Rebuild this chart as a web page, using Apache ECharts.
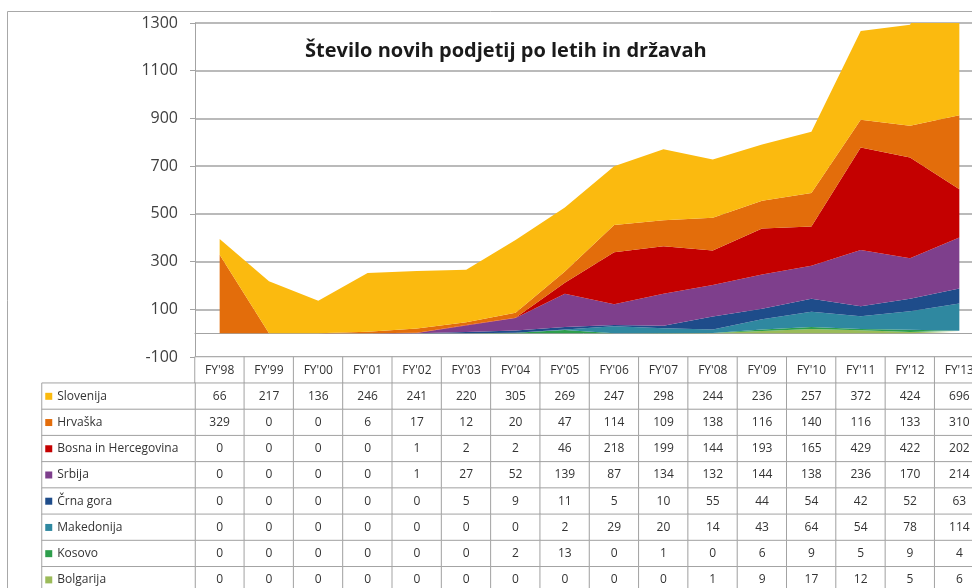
<!DOCTYPE html>
<html><head><meta charset="utf-8">
<script src="https://cdn.jsdelivr.net/npm/echarts@6/dist/echarts.min.js"></script>
<style>html,body{margin:0;padding:0;background:#fff}#c{width:972px;height:588px}</style>
</head><body><div id="c"></div>
<script>
const years = ["FY'98","FY'99","FY'00","FY'01","FY'02","FY'03","FY'04","FY'05","FY'06","FY'07","FY'08","FY'09","FY'10","FY'11","FY'12","FY'13"];
const countries = ["Slovenija","Hrvaška","Bosna in Hercegovina","Srbija","Črna gora","Makedonija","Kosovo","Bolgarija"];
const slovenija  = [66,217,136,246,241,220,305,269,247,298,244,236,257,372,424,696];
const hrvaska    = [329,0,0,6,17,12,20,47,114,109,138,116,140,116,133,310];
const bosna      = [0,0,0,0,1,2,2,46,218,199,144,193,165,429,422,202];
const srbija     = [0,0,0,0,1,27,52,139,87,134,132,144,138,236,170,214];
const crnaGora   = [0,0,0,0,0,5,9,11,5,10,55,44,54,42,52,63];
const makedonija = [0,0,0,0,0,0,0,2,29,20,14,43,64,54,78,114];
const kosovo     = [0,0,0,0,0,0,2,13,0,1,0,6,9,5,9,4];
const bolgarija  = [0,0,0,0,0,0,0,0,0,0,1,9,17,12,5,6];
const yTicks = [-100,100,300,500,700,900,1100,1300];
const title = "Število novih podjetij po letih in državah";

const rows = [slovenija,hrvaska,bosna,srbija,crnaGora,makedonija,kosovo,bolgarija];
const colors = ["#FBBA0F","#E36D0B","#C40000","#7E3F8C","#1E4C8A","#2F88A0","#2E9E4C","#9BBB59"];
const FONT = "Open Sans";
const GRID = "#A3A3A3";

// stacked series, bottom first
const areaSeries = [];
for (let i = rows.length - 1; i >= 0; i--) {
  areaSeries.push({
    name: countries[i], type: 'line', stack: 'total', xAxisIndex: 0, yAxisIndex: 0,
    data: rows[i], symbol: 'none', smooth: false,
    lineStyle: {width: 0}, areaStyle: {color: colors[i], opacity: 1},
    itemStyle: {color: colors[i]}, emphasis: {disabled: true}, silent: true
  });
}

// table cells (header row + value rows)
const tableData = [];
years.forEach((y, x) => tableData.push([x, 0, 0]));
rows.forEach((r, ri) => r.forEach((v, x) => tableData.push([x, ri + 1, v])));
const headerCells = countries.map((c, i) => [0, i, 0]);

const rich = {t: {fontFamily: FONT, fontSize: 12, color: '#333', padding: [0,0,0,5]}};
colors.forEach((c, i) => { rich['s' + i] = {width: 7, height: 7, backgroundColor: c}; });

const chart = echarts.init(document.getElementById('c'), null, {renderer: 'canvas'});
chart.setOption({
  animation: false,
  backgroundColor: '#fff',
  textStyle: {fontFamily: FONT},
  title: {text: title, left: 300, top: 36, textStyle: {fontFamily: FONT, fontSize: 20, fontWeight: 'bold', color: '#1a1a1a'}},
  graphic: [{type: 'rect', shape: {x: 7.5, y: 11.5, width: 1000, height: 600}, style: {fill: 'none', stroke: '#A8A8A8', lineWidth: 1}, silent: true, z: -10}],
  grid: [
    {left: 195, top: 23, width: 789, height: 334, outerBoundsMode: 'none', containLabel: false},
    {left: 195, top: 357, width: 789, height: 236, outerBoundsMode: 'none', containLabel: false},
    {left: 42, top: 383.2, width: 153, height: 209.8, outerBoundsMode: 'none', containLabel: false}
  ],
  xAxis: [
    {type: 'category', gridIndex: 0, data: years, boundaryGap: true,
     axisLine: {show: true, onZero: true, lineStyle: {color: GRID, width: 1}},
     axisTick: {show: false}, axisLabel: {show: false}, splitLine: {show: false}},
    {type: 'category', gridIndex: 1, data: years, show: false},
    {type: 'category', gridIndex: 2, data: ['x'], show: false}
  ],
  yAxis: [
    {type: 'value', gridIndex: 0, min: yTicks[0], max: yTicks[yTicks.length-1], interval: yTicks[1]-yTicks[0],
     axisLine: {show: true, lineStyle: {color: GRID, width: 1}},
     axisTick: {show: true, length: 5, lineStyle: {color: GRID}},
     axisLabel: {fontFamily: FONT, fontSize: 16, color: '#404040', margin: 17, formatter: v => String(v)},
     splitLine: {show: true, lineStyle: {color: GRID, width: 1.5}}},
    {type: 'category', gridIndex: 1, data: [''].concat(countries), inverse: true, show: false},
    {type: 'category', gridIndex: 2, data: countries, inverse: true, show: false}
  ],
  series: areaSeries.concat([
    {type: 'heatmap', xAxisIndex: 1, yAxisIndex: 1, data: tableData, silent: true,
     itemStyle: {color: '#fff', borderColor: GRID, borderWidth: 1},
     emphasis: {disabled: true},
     label: {show: true, fontFamily: FONT, fontSize: 12, color: '#333',
       formatter: p => p.value[1] === 0 ? years[p.value[0]] : String(p.value[2])}},
    {type: 'heatmap', xAxisIndex: 2, yAxisIndex: 2, data: headerCells, silent: true,
     itemStyle: {color: '#fff', borderColor: GRID, borderWidth: 1},
     emphasis: {disabled: true},
     label: {show: true, position: 'insideLeft', distance: 4, rich: rich,
       formatter: p => '{s' + p.value[1] + '|}{t|' + countries[p.value[1]] + '}'}}
  ])
});
</script></body></html>
